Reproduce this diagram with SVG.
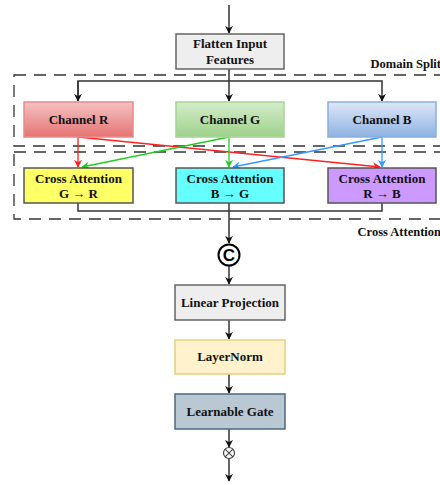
<svg xmlns="http://www.w3.org/2000/svg" width="440" height="485" viewBox="0 0 440 485">
<defs>
<style>
.box{stroke-width:1.5}
.t{font-family:'Liberation Serif','DejaVu Serif',serif;font-weight:700;font-size:13px;fill:#111;text-anchor:middle}
.lbl{font-family:'Liberation Serif','DejaVu Serif',serif;font-weight:700;font-size:12.5px;fill:#111;text-anchor:end}
.dash{fill:none;stroke:#333;stroke-width:1.3;stroke-dasharray:12 8}
.k{fill:none;stroke:#333;stroke-width:1.5}
</style>
<linearGradient id="gR" x1="0" y1="0" x2="0" y2="1"><stop offset="0" stop-color="#f5c3c3"/><stop offset="1" stop-color="#e57373"/></linearGradient>
<linearGradient id="gG" x1="0" y1="0" x2="0" y2="1"><stop offset="0" stop-color="#d5eccb"/><stop offset="1" stop-color="#9ed18a"/></linearGradient>
<linearGradient id="gB" x1="0" y1="0" x2="0" y2="1"><stop offset="0" stop-color="#dde8f8"/><stop offset="1" stop-color="#8fb2e2"/></linearGradient>
<marker id="ak" viewBox="0 0 10 10" refX="9" refY="5" markerWidth="8" markerHeight="8" markerUnits="userSpaceOnUse" orient="auto"><path d="M0,0 L10,5 L0,10 L3,5 z" fill="#111"/></marker>
<marker id="ar" viewBox="0 0 10 10" refX="9" refY="5" markerWidth="8" markerHeight="8" markerUnits="userSpaceOnUse" orient="auto"><path d="M0,0 L10,5 L0,10 L3,5 z" fill="#ff2020"/></marker>
<marker id="ag" viewBox="0 0 10 10" refX="9" refY="5" markerWidth="8" markerHeight="8" markerUnits="userSpaceOnUse" orient="auto"><path d="M0,0 L10,5 L0,10 L3,5 z" fill="#22cc22"/></marker>
<marker id="ab" viewBox="0 0 10 10" refX="9" refY="5" markerWidth="8" markerHeight="8" markerUnits="userSpaceOnUse" orient="auto"><path d="M0,0 L10,5 L0,10 L3,5 z" fill="#3399ff"/></marker>
</defs>
<rect width="440" height="485" fill="#fff"/>

<g id="groups">
<rect class="dash" x="14" y="75" width="440" height="71"/>
<text class="lbl" x="441" y="68">Domain Split</text>
<rect class="dash" x="14" y="152" width="440" height="67"/>
<text class="lbl" x="441" y="236">Cross Attention</text>
</g>

<g id="connectors">
<line class="k" x1="229" y1="5" x2="229" y2="33" marker-end="url(#ak)"/>
<line class="k" x1="229" y1="69" x2="229" y2="101" marker-end="url(#ak)"/>
<polyline class="k" points="78,101 78,81 382,81 382,101" marker-end="url(#ak)"/>
<line class="k" x1="78" y1="81" x2="78" y2="101" marker-end="url(#ak)"/>
<line x1="78" y1="137" x2="78" y2="167" stroke="#ff2020" stroke-width="1.3" marker-end="url(#ar)"/>
<line x1="78" y1="137" x2="380" y2="167" stroke="#ff2020" stroke-width="1.3" marker-end="url(#ar)"/>
<line x1="229" y1="137" x2="229" y2="167" stroke="#22cc22" stroke-width="1.3" marker-end="url(#ag)"/>
<line x1="229" y1="137" x2="82" y2="167" stroke="#22cc22" stroke-width="1.3" marker-end="url(#ag)"/>
<line x1="382" y1="137" x2="382" y2="167" stroke="#3399ff" stroke-width="1.3" marker-end="url(#ab)"/>
<line x1="382" y1="137" x2="233" y2="167" stroke="#3399ff" stroke-width="1.3" marker-end="url(#ab)"/>
<polyline class="k" points="78,203 78,211 382,211 382,203"/>
<line class="k" x1="229" y1="203" x2="229" y2="243" marker-end="url(#ak)"/>
<line class="k" x1="229" y1="266" x2="229" y2="284" marker-end="url(#ak)"/>
<line class="k" x1="229" y1="320" x2="229" y2="339" marker-end="url(#ak)"/>
<line class="k" x1="229" y1="374" x2="229" y2="393" marker-end="url(#ak)"/>
<line class="k" x1="229" y1="429" x2="229" y2="447" marker-end="url(#ak)"/>
<line class="k" x1="229" y1="459" x2="229" y2="481" marker-end="url(#ak)"/>
</g>

<g id="flatten">
<rect class="box" x="176" y="34" width="108" height="35" fill="#eeeeee" stroke="#666"/>
<text class="t" x="230" y="48">Flatten Input</text>
<text class="t" x="230" y="64">Features</text>
</g>
<g id="channelR">
<rect class="box" x="24" y="102" width="109" height="35" fill="url(#gR)" stroke="#e88a8a"/>
<text class="t" x="78.5" y="124">Channel R</text>
</g>
<g id="channelG">
<rect class="box" x="176" y="102" width="108" height="35" fill="url(#gG)" stroke="#a8d499"/>
<text class="t" x="230" y="124">Channel G</text>
</g>
<g id="channelB">
<rect class="box" x="328" y="102" width="108" height="35" fill="url(#gB)" stroke="#8aaee0"/>
<text class="t" x="382" y="124">Channel B</text>
</g>
<g id="caGR">
<rect class="box" x="24" y="168" width="109" height="35" fill="#ffff66" stroke="#555"/>
<text class="t" x="78.5" y="183">Cross Attention</text>
<text class="t" x="78.5" y="198">G → R</text>
</g>
<g id="caBG">
<rect class="box" x="176" y="168" width="108" height="35" fill="#66ffff" stroke="#555"/>
<text class="t" x="230" y="183">Cross Attention</text>
<text class="t" x="230" y="198">B → G</text>
</g>
<g id="caRB">
<rect class="box" x="328" y="168" width="108" height="35" fill="#cc99ff" stroke="#555"/>
<text class="t" x="382" y="183">Cross Attention</text>
<text class="t" x="382" y="198">R → B</text>
</g>
<g id="concat">
<circle cx="229" cy="255" r="10.5" fill="#fff" stroke="#000" stroke-width="2"/>
<text x="229" y="261" font-family="'Liberation Sans', Arial, sans-serif" font-weight="bold" font-size="17" text-anchor="middle" fill="#000">C</text>
</g>
<g id="linear">
<rect class="box" x="175" y="285" width="110" height="35" fill="#eeeeee" stroke="#666"/>
<text class="t" x="230" y="307">Linear Projection</text>
</g>
<g id="layernorm">
<rect class="box" x="175" y="340" width="110" height="34" fill="#fff2cc" stroke="#e6cf7a"/>
<text class="t" x="230" y="361">LayerNorm</text>
</g>
<g id="gate">
<rect class="box" x="175" y="394" width="110" height="35" fill="#bac8d3" stroke="#4a6a85"/>
<text class="t" x="230" y="416">Learnable Gate</text>
</g>
<g id="mult">
<circle cx="229" cy="453" r="5.5" fill="#fff" stroke="#444" stroke-width="1.2"/>
<path d="M225.1,449.1 L232.9,456.9 M232.9,449.1 L225.1,456.9" stroke="#444" stroke-width="1.1"/>
</g>
</svg>
